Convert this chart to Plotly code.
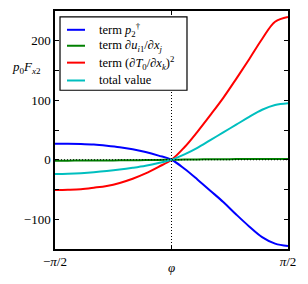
import numpy as np
import plotly.graph_objects as go

phi_deg = [-90, -80, -70, -60, -50, -40, -30, -20, -10, 0,
           10, 20, 30, 40, 50, 60, 70, 80, 90]
term_p2 = [27, 27, 26.5, 25.5, 23.5, 21, 17.5, 13, 7, 0,
           -15, -33, -52, -71, -92, -112, -130, -141, -145]
term_du = [-1.5, -1.5, -1.4, -1.3, -1.2, -1.0, -0.8, -0.5, -0.3, 0,
           0.3, 0.5, 0.8, 1.0, 1.1, 1.2, 1.3, 1.3, 1.3]
term_dT = [-51, -50.5, -49.5, -47, -44, -39, -32, -23, -12, 0,
           21, 47, 75, 104, 136, 169, 203, 232, 240]
total = [-24, -23.5, -22.5, -21, -19, -16.5, -13.5, -10, -5.5, 0,
         9, 20, 33, 46, 59, 72, 84, 92, 95]

names = ["term <i>p</i><sub>2</sub><sup>†</sup>",
         "term ∂<i>u</i><sub><i>i</i>1</sub>/∂<i>x</i><sub><i>j</i></sub>",
         "term (∂<i>T</i><sub>0</sub>/∂<i>x</i><sub><i>k</i></sub>)<sup>2</sup>",
         "total value"]
colors = ["#0000ff", "#008000", "#ff0000", "#00bfbf"]
series = [term_p2, term_du, term_dT, total]

yticks = [-100, -50, 0, 50, 100, 150, 200]
yticktext = ["−100", "", "0", "", "100", "", "200"]
xticks = [-np.pi / 2, 0, np.pi / 2]
xticktext = ["−<i>π</i>/2", "", "<i>π</i>/2"]

phi = np.deg2rad(phi_deg)
FONT = "Liberation Serif"

fig = go.Figure()
for ys, c, n in zip(series, colors, names):
    fig.add_trace(go.Scatter(x=phi, y=ys, mode="lines", name=n,
                             line=dict(color=c, width=2, shape="spline", smoothing=1.0),
                             showlegend=False))

# dotted zero lines
fig.add_shape(type="line", xref="x", yref="paper", x0=0, x1=0, y0=0, y1=1,
              line=dict(color="black", width=1, dash="1px,2px"), layer="above")
fig.add_shape(type="line", xref="paper", yref="y", x0=0, x1=1, y0=0, y1=0,
              line=dict(color="black", width=1, dash="1px,2px"), layer="above")

# legend box
fig.add_shape(type="rect", xref="paper", yref="paper", x0=0.0215, x1=0.5665,
              y0=0.667, y1=0.975, fillcolor="white",
              line=dict(color="black", width=1.2), layer="above")
entry_y = [0.921, 0.854, 0.783, 0.708]
for ey, c, n in zip(entry_y, colors, names):
    fig.add_shape(type="line", xref="paper", yref="paper", x0=0.0515, x1=0.1288,
                  y0=ey, y1=ey, line=dict(color=c, width=2), layer="above")
    fig.add_annotation(xref="paper", yref="paper", x=0.180, y=ey, text=n,
                       showarrow=False, xanchor="left", yanchor="middle",
                       font=dict(family=FONT, size=12.5, color="black"))

fig.add_annotation(xref="paper", yref="paper", x=-0.124, y=0.7625,
                   text="<i>p</i><sub>0</sub><i>F</i><sub><i>x</i>2</sub>",
                   showarrow=False, xanchor="center", yanchor="middle",
                   font=dict(family=FONT, size=13, color="black"))
fig.add_annotation(xref="paper", yref="paper", x=0.5, y=-0.079,
                   text="<i>φ</i>", showarrow=False, xanchor="center", yanchor="middle",
                   font=dict(family=FONT, size=13, color="black"))

axis_common = dict(showline=True, linecolor="black", linewidth=1.5, mirror="ticks",
                   ticks="inside", ticklen=4, tickwidth=1, tickcolor="black",
                   showgrid=False, zeroline=False,
                   tickfont=dict(family=FONT, size=13, color="black"))
fig.update_xaxes(range=[-np.pi / 2, np.pi / 2], tickvals=xticks, ticktext=xticktext,
                 **axis_common)
fig.update_yaxes(range=[-150, 250], tickvals=yticks, ticktext=yticktext,
                 **axis_common)
# the page body adds an 8px offset, so the figure is 300x276
fig.update_layout(width=300, height=276, margin=dict(l=47, r=20, t=1, b=35),
                  plot_bgcolor="white", paper_bgcolor="white")
fig.write_html("out.html")
